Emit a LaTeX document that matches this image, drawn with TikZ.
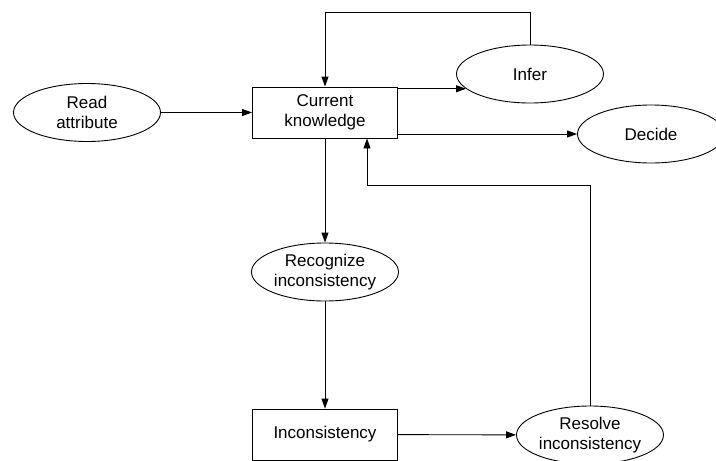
\documentclass[tikz,border=0pt]{standalone}
\usepackage{fontspec}
\setmainfont{Liberation Sans}
\usepackage{tikz}
\usetikzlibrary{shapes.geometric, arrows.meta, positioning}
\tikzstyle{box} = [rectangle, draw, line width=0.9pt, minimum width=145pt, minimum height=51pt, inner sep=0pt, align=center, font=\fontsize{17}{19.5}\selectfont]
\tikzstyle{task} = [ellipse, draw, line width=0.9pt, minimum width=147pt, minimum height=58pt, inner sep=0pt, align=center, font=\fontsize{17}{19.5}\selectfont]
\tikzstyle{arrow} = [draw, -{Triangle[length=10pt, width=7pt]}, line width=0.9pt]

\begin{document}
\begin{tikzpicture}[x=1pt, y=-1pt]
		\useasboundingbox (0,0) rectangle (716,461);
		\node[task] (rattr) at (87,112.5) {Read\\attribute};
		\node[box] (know) at (325,112.5) {Current\\knowledge};
		\node[task] (infer) at (530,74) {Infer};
		\node[task] (decide) at (651,134) {Decide};
		\node[task] (recog) at (325,272) {Recognize\\inconsistency};
		\node[box] (incons) at (325,434.5) {Inconsistency};
		\node[task] (resolve) at (590,435) {Resolve\\inconsistency};
		\coordinate (loop) at (530,12);
		\coordinate (ret) at (367,185);
		\draw[arrow] (rattr) -- (know);
		\draw[arrow] (know.east |- infer.193) -- (infer.193);
		\draw[arrow] (know.east |- decide.west) -- (decide.west);
		\draw[arrow] (infer.north) -- (loop) -| (know.north);
		\draw[arrow] (know) -- (recog);
		\draw[arrow] (recog) -- (incons);
		\draw[arrow] (incons) -- (resolve);
		\draw[arrow] (resolve.north) |- (ret) -- (ret |- know.south);
	\end{tikzpicture}
\end{document}
